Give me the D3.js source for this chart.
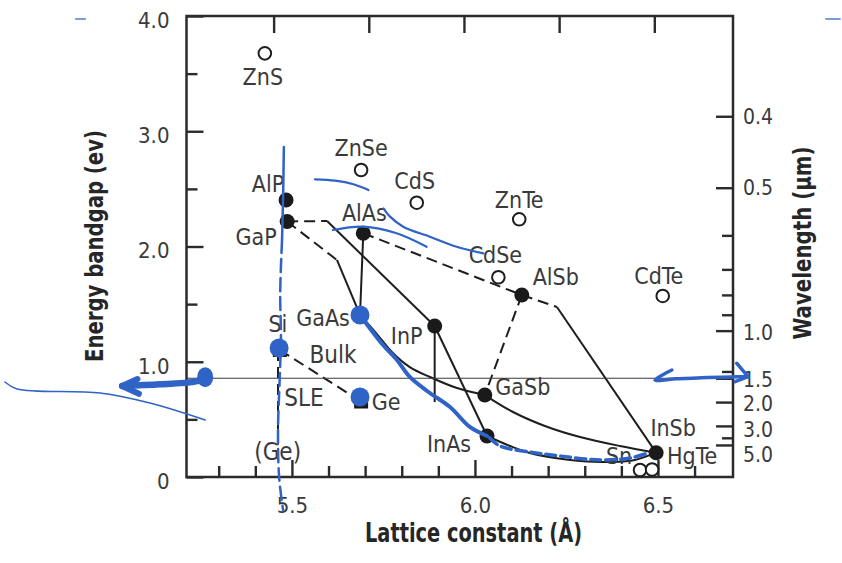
<!DOCTYPE html>
<html>
<head>
<meta charset="utf-8">
<script src="https://cdn.jsdelivr.net/npm/d3@7"></script>
<style>
  html, body { margin: 0; padding: 0; background: #fff; }
  svg { display: block; }
  .lbl { font-family: 'Liberation Sans Narrow', 'Arial Narrow', 'DejaVu Sans Condensed', 'DejaVu Sans', sans-serif; font-stretch: condensed; fill: #3a3a3a; }
  .ttl { font-family: 'Liberation Sans Narrow', 'Arial Narrow', 'DejaVu Sans Condensed', 'DejaVu Sans', sans-serif; font-stretch: condensed; font-weight: bold; fill: #262626; }
</style>
</head>
<body>
<svg id="chart" width="842" height="563"></svg>
<script>
// ---------------- DATA ----------------
// filled circles: III-V compounds  [name, lattice constant (Å), bandgap (eV)]
const filledNames   = ["AlP", "GaP", "AlAs", "GaAs", "InP", "AlSb", "GaSb", "InAs", "InSb"];
const filledLattice = [5.484, 5.487, 5.695, 5.686, 5.890, 6.128, 6.027, 6.033, 6.495];
const filledGap     = [2.403, 2.217, 2.115, 1.406, 1.310, 1.579, 0.711, 0.356, 0.211];

// open circles: II-VI compounds and others
const openNames   = ["ZnS", "ZnSe", "CdS", "ZnTe", "CdSe", "CdTe", "Sn", "HgTe"];
const openLattice = [5.426, 5.689, 5.841, 6.121, 6.064, 6.513, 6.451, 6.484];
const openGap     = [3.676, 2.664, 2.380, 2.236, 1.733, 1.571, 0.061, 0.065];

// squares: group IV
const squareNames   = ["Si", "Ge"];
const squareLattice = [5.467, 5.689];
const squareGap     = [1.102, 0.655];

// axis ticks
const xMajorTicks = [5.5, 6.0, 6.5];
const xMinorTicks = [5.3, 5.4, 5.6, 5.7, 5.8, 5.9, 6.1, 6.2, 6.3, 6.4, 6.6];
const topTicks    = [5.45, 5.71, 5.97, 6.23, 6.49];
const yMajorTicks = [0, 1, 2, 3, 4];
const yMinorTicks = [0.5, 1.5, 2.5, 3.5];
const wlMajorTicks = [0.4, 0.5, 1.0, 1.5, 2.0, 3.0, 5.0];   // µm
const wlMinorTicks = [0.6, 0.7, 0.8, 0.9, 1.4, 4.0];
const wlCalibration = 0.03;   // eV offset of the printed wavelength scale

// bend points of the alloy lines [lattice, eV]
const gapToInPBend   = [5.596, 2.221];
const gapToGaAsBend  = [5.623, 1.883];
const alsbToInSbBend = [6.224, 1.475];
const inpMatchEnd    = [5.890, 0.650];
const siVerticalEnd  = [5.462, 0.280];

// curved alloy lines [lattice, eV]
const curveGaAsInAs = [[5.686,1.406],[5.749,1.145],[5.787,1.015],[5.822,0.868],[5.877,0.729],[5.932,0.607],[5.986,0.434],[6.033,0.356]];
const curveGaAsGaSb = [[5.686,1.406],[5.730,1.249],[5.773,1.085],[5.822,0.954],[5.877,0.868],[5.951,0.772],[6.027,0.711]];
const curveGaSbInSb = [[6.027,0.711],[6.104,0.564],[6.191,0.443],[6.287,0.347],[6.396,0.269],[6.495,0.211]];
const curveInAsInSb = [[6.033,0.356],[6.096,0.269],[6.150,0.208],[6.219,0.165],[6.287,0.139],[6.377,0.130],[6.437,0.148],[6.495,0.211]];

// free text labels [text, lattice, eV]
const freeLabels = [["Bulk", 5.612, 1.067], ["SLE", 5.533, 0.694], ["(Ge)", 5.461, 0.226]];

// hand-drawn blue annotations [lattice, eV]
const blueDots = [[5.465, 1.119], [5.686, 1.406], [5.686, 0.694]];
const blueInAsInSb = [[6.040,0.340],[6.068,0.269],[6.150,0.217],[6.232,0.182],[6.342,0.148],[6.424,0.165],[6.473,0.208]];
const blueVerticalSolid  = [[5.478,2.863],[5.476,2.45],[5.473,2.056]];
const blueVerticalDashed = [[5.473,2.056],[5.468,1.6],[5.470,1.2],[5.466,0.8],[5.462,0.4],[5.465,0.0],[5.476,-0.29]];
const blueLeftArrow = [[5.036,0.790],[5.140,0.805],[5.245,0.835],[5.268,0.880]];
const blueLeftHead  = [[5.078,0.850],[5.036,0.790],[5.082,0.722]];
const blueLeftBlob  = [5.263, 0.866];
const blueThinLine  = [[4.716,0.824],[4.749,0.764],[4.976,0.729],[5.112,0.642],[5.263,0.495]];
const blueRightArrow = [[6.538,0.928],[6.492,0.842],[6.55,0.852],[6.62,0.862],[6.70,0.868],[6.746,0.870]];
const blueRightHead  = [[6.715,0.987],[6.746,0.870],[6.711,0.827]];
const blueArc1 = [[5.563,2.583],[5.618,2.571],[5.668,2.540],[5.709,2.490]];
const blueArc2 = [[5.612,2.143],[5.695,2.172],[5.786,2.115],[5.868,1.998]];
const blueArc3 = [[5.750,2.331],[5.768,2.259],[5.804,2.172],[5.877,2.085],[5.950,1.998],[6.023,1.941]];
const blueTicksTop = [[[4.910,3.974],[4.935,3.974]], [[6.959,3.974],[6.997,3.974]]];

// ---------------- LAYOUT ----------------
const labelOffset = {
  ZnS:[-2,23], ZnSe:[0,-22], CdS:[-2,-22], ZnTe:[0,-20], CdSe:[-3,-23], CdTe:[-4,-20],
  AlSb:[34,-18], AlP:[-18,-16], GaP:[-31,15], AlAs:[1,-21], GaAs:[-37,3], InP:[-28,10],
  GaSb:[38,-8], InAs:[-38,8], InSb:[17,-25], HgTe:[40,-14], Sn:[-21,-14], Si:[-2,-26], Ge:[25,0]
};
const wlLabelNudge = {"1.0": 2, "1.5": 1, "2.0": 2, "3.0": 4, "5.0": 10};

const svg = d3.select("#chart");
const x = d3.scaleLinear().domain([5.212, 6.705]).range([186.5, 733]);
const y = d3.scaleLinear().domain([0, 4]).range([477, 16]);
const eOfWl = w => 1.24 / w + wlCalibration;

const INK = "#1e1e1e";
const BLUE = "#2f63c6";

const pos = {};
filledNames.forEach((n,i)=> pos[n] = [filledLattice[i], filledGap[i]]);
openNames.forEach((n,i)=> pos[n] = [openLattice[i], openGap[i]]);
squareNames.forEach((n,i)=> pos[n] = [squareLattice[i], squareGap[i]]);

const line = d3.line().x(d=>x(d[0])).y(d=>y(d[1]));
const curve = d3.line().x(d=>x(d[0])).y(d=>y(d[1])).curve(d3.curveCatmullRom.alpha(0.5));

// ---------------- AXES ----------------
function styleAxis(g, size) {
  g.select(".domain").remove();
  g.selectAll(".tick line").attr("stroke", "#2b2b2b").attr("stroke-width", 2.4);
  g.selectAll(".tick text").attr("class", "lbl").attr("fill", "#4a4a4a").style("font-size", (size || 22) + "px");
}
const axes = svg.append("g");
axes.append("g").attr("transform", "translate(0,477)")
  .call(d3.axisBottom(x).tickValues(xMinorTicks).tickSize(-11).tickFormat("")).call(styleAxis);
axes.append("g").attr("transform", "translate(0,477)")
  .call(d3.axisBottom(x).tickValues(xMajorTicks).tickSize(-17).tickPadding(20).tickFormat(d3.format(".1f"))).call(styleAxis);
axes.append("g").attr("transform", "translate(0,16)")
  .call(d3.axisTop(x).tickValues(topTicks).tickSize(-17).tickFormat("")).call(styleAxis);
axes.append("g").attr("transform", "translate(186.5,0)")
  .call(d3.axisLeft(y).tickValues(yMinorTicks).tickSize(-11).tickFormat("")).call(styleAxis);
axes.append("g").attr("transform", "translate(186.5,0)")
  .call(d3.axisLeft(y).tickValues(yMajorTicks).tickSize(-17).tickPadding(17).tickFormat(d => d === 0 ? "0" : d.toFixed(1))).call(styleAxis)
  .selectAll(".tick text").attr("dy", "0.52em");
axes.append("g").attr("transform", "translate(733,0)")
  .call(d3.axisRight(y).tickValues(wlMinorTicks.map(eOfWl)).tickSize(-11).tickFormat("")).call(styleAxis);
const rAx = axes.append("g").attr("transform", "translate(733,0)")
  .call(d3.axisRight(y).tickValues(wlMajorTicks.map(eOfWl)).tickSize(-17).tickPadding(10).tickFormat((d,i)=> wlMajorTicks[i].toFixed(1)))
  .call(g => styleAxis(g, 21));
rAx.selectAll(".tick text").attr("y", function() { return wlLabelNudge[this.textContent] || 0; });

// frame
svg.append("rect").attr("x", x.range()[0]).attr("y", y.range()[1])
  .attr("width", x.range()[1]-x.range()[0]).attr("height", y.range()[0]-y.range()[1])
  .attr("fill", "none").attr("stroke", "#2b2b2b").attr("stroke-width", 2.5);

// axis titles
svg.append("text").attr("class", "ttl").attr("x", 473.5).attr("y", 542)
  .attr("text-anchor", "middle").style("font-size", "26px")
  .attr("textLength", 217).attr("lengthAdjust", "spacingAndGlyphs").text("Lattice constant (Å)");
svg.append("text").attr("class", "ttl").attr("transform", "translate(103,246) rotate(-90)")
  .attr("text-anchor", "middle").style("font-size", "25px")
  .attr("textLength", 232).attr("lengthAdjust", "spacingAndGlyphs").text("Energy bandgap (ev)");
svg.append("text").attr("class", "ttl").attr("transform", "translate(811,243) rotate(-90)")
  .attr("text-anchor", "middle").style("font-size", "25px")
  .attr("textLength", 193).attr("lengthAdjust", "spacingAndGlyphs").text("Wavelength (µm)");

// ---------------- LINES ----------------
const lines = svg.append("g").attr("fill", "none").attr("stroke", INK).attr("stroke-width", 2);
const segs = [
  {p:[pos.GaP, gapToInPBend], dash:true},
  {p:[gapToInPBend, pos.InP]},
  {p:[pos.GaP, gapToGaAsBend], dash:true},
  {p:[gapToGaAsBend, pos.GaAs]},
  {p:[pos.AlAs, pos.GaAs]},
  {p:[pos.AlAs, pos.AlSb], dash:true},
  {p:[pos.AlSb, alsbToInSbBend], dash:true},
  {p:[alsbToInSbBend, pos.InSb]},
  {p:[pos.AlSb, pos.GaSb], dash:true},
  {p:[pos.InP, pos.InAs]},
  {p:[pos.InP, inpMatchEnd]},
  {p:[pos.Si, pos.Ge], dash:true},
  {p:[[siVerticalEnd[0], pos.Si[1]], siVerticalEnd], dash:true}
];
segs.forEach(s => lines.append("path").attr("d", line(s.p)).attr("stroke-dasharray", s.dash ? "11,6" : null));
[curveGaAsInAs, curveGaAsGaSb, curveGaSbInSb, curveInAsInSb].forEach(c => lines.append("path").attr("d", curve(c)));

// 1.5 µm reference line
svg.append("line").attr("x1", x.range()[0]).attr("x2", x.range()[1])
  .attr("y1", y(eOfWl(1.5))).attr("y2", y(eOfWl(1.5)))
  .attr("stroke", "#3a3a3a").attr("stroke-width", 1.2);

// ---------------- MARKERS ----------------
const marks = svg.append("g");
marks.selectAll(".open").data(openNames).join("circle")
  .attr("cx", n => x(pos[n][0])).attr("cy", n => y(pos[n][1])).attr("r", 6.3)
  .attr("fill", "#fff").attr("stroke", INK).attr("stroke-width", 2);
marks.selectAll(".filled").data(filledNames).join("circle")
  .attr("cx", n => x(pos[n][0])).attr("cy", n => y(pos[n][1])).attr("r", 7.5)
  .attr("fill", "#1a1a1a");
marks.selectAll(".sq").data(squareNames).join("rect")
  .attr("x", n => x(pos[n][0]) - 7).attr("y", n => y(pos[n][1]) - 7)
  .attr("width", 14).attr("height", 14).attr("fill", "#1a1a1a");

// ---------------- LABELS ----------------
const labels = svg.append("g");
[...openNames, ...filledNames, ...squareNames].forEach(n => {
  const o = labelOffset[n] || [0, 0];
  labels.append("text").attr("class", "lbl")
    .attr("x", x(pos[n][0]) + o[0]).attr("y", y(pos[n][1]) + o[1])
    .attr("dy", "0.36em").attr("text-anchor", "middle").style("font-size", "23px").text(n);
});
freeLabels.forEach(f => labels.append("text").attr("class", "lbl")
  .attr("x", x(f[1])).attr("y", y(f[2])).attr("dy", "0.36em").attr("text-anchor", "middle")
  .style("font-size", "24px").text(f[0]));

// ---------------- BLUE ANNOTATIONS ----------------
const blue = svg.append("g").attr("fill", "none").attr("stroke", BLUE)
  .attr("stroke-linecap", "round").attr("stroke-linejoin", "round");
blue.append("path").attr("d", curve(curveGaAsInAs)).attr("stroke-width", 4);
blue.append("path").attr("d", curve(blueInAsInSb)).attr("stroke-width", 3.5).attr("stroke-dasharray", "10,5");
blue.append("path").attr("d", curve(blueVerticalSolid)).attr("stroke-width", 2.5);
blue.append("path").attr("d", curve(blueVerticalDashed)).attr("stroke-width", 2.5).attr("stroke-dasharray", "13,6");
blue.append("path").attr("d", curve(blueLeftArrow)).attr("stroke-width", 6.5);
blue.append("path").attr("d", line(blueLeftHead)).attr("stroke-width", 6);
blue.append("path").attr("d", curve(blueThinLine)).attr("stroke-width", 1.5);
blue.append("path").attr("d", curve(blueRightArrow)).attr("stroke-width", 3.5);
blue.append("path").attr("d", line(blueRightHead)).attr("stroke-width", 3.5);
[blueArc1, blueArc2, blueArc3].forEach(a => blue.append("path").attr("d", curve(a)).attr("stroke-width", 2.2));
blueTicksTop.forEach(t => blue.append("path").attr("d", line(t)).attr("stroke-width", 2).attr("stroke", "#7a9be0"));
svg.append("ellipse").attr("cx", x(blueLeftBlob[0])).attr("cy", y(blueLeftBlob[1])).attr("rx", 8).attr("ry", 10).attr("fill", BLUE);
svg.selectAll(".bdot").data(blueDots).join("circle")
  .attr("cx", d => x(d[0])).attr("cy", d => y(d[1])).attr("r", 9.5).attr("fill", BLUE);
</script>
</body>
</html>
